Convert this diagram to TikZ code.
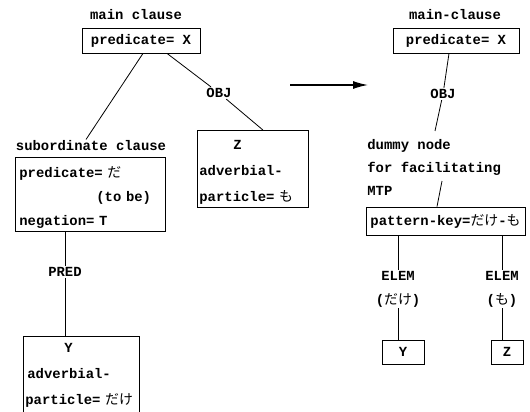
\documentclass[tikz,border=0pt]{standalone}
\usepackage{fontspec}
\setmainfont{Liberation Mono}
\newfontfamily\cjk{Noto Sans CJK JP}
\newcommand\jp[1]{{\cjk\mdseries #1}}
\usetikzlibrary{arrows.meta}

\tikzset{
  lbl/.style={inner sep=1pt, font=\fontsize{13.9}{24}\selectfont\bfseries},
  rel/.style={lbl},
  box/.style={draw, line width=.8pt, inner xsep=2pt, inner ysep=0pt, font=\fontsize{13.9}{26}\selectfont\bfseries},
}

\begin{document}
\begin{tikzpicture}[x=1pt, y=-1pt, line width=.8pt]
\useasboundingbox (0,0) rectangle (530,412);
% left tree
\node[lbl] (mainL) at (136,15) {main clause};
\node[box, minimum width=118pt, minimum height=25pt] (predL) at (141,40.5) {predicate= X};
\node[rel] (objL) at (219,93) {OBJ};
\node[lbl] (subL) at (91,146) {subordinate clause};
\node[box, anchor=north west, text width=142pt, inner xsep=4pt, minimum height=74pt, align=left,
  font=\fontsize{13.9}{24}\selectfont\bfseries] (subB) at (15,157)
  {\rule{0pt}{17pt}predicate= \jp{だ}\\\hspace*{77pt}(to be)\\negation= T};
\node[box, anchor=north west, text width=107pt, minimum height=77pt, align=left] (zB) at (197,130)
  {\rule{0pt}{17pt}\hspace*{34pt}Z\\adverbial-\\particle= \jp{も}};
\node[rel] (predLbl) at (65,272) {PRED};
\node[box, anchor=north west, text width=112pt, minimum height=78pt, align=left] (yB) at (23,336)
  {\hspace*{39pt}Y\\\hspace*{2pt}adverbial-\\particle= \jp{だけ}};

\draw ([xshift=2pt]predL.south) -- ([xshift=-5pt]subL.north);
\draw ([xshift=26pt]predL.south) -- (objL);
\draw (objL) -- ([xshift=10pt]zB.north);
\draw (predLbl) -- (predLbl |- subB.south);
\draw (predLbl) -- (predLbl |- yB.north);

% arrow
\coordinate (arrS) at (290,85);
\coordinate (arrE) at (368,85);
\draw[line width=1.3pt, -{Latex[length=15pt,width=8pt]}] (arrS) -- (arrE);

% right tree
\node[lbl] (mainR) at (455,15) {main-clause};
\node[box, minimum width=126pt, minimum height=25pt] (predR) at (456,40.5) {predicate= X};
\node[rel] (objR) at (443,94) {OBJ};
\node[lbl, anchor=north west, align=left, font=\fontsize{13.9}{23}\selectfont\bfseries] (dummy) at (366,138)
  {dummy node\\for facilitating\\MTP};
\coordinate (dTop) at (435,131);
\coordinate (dBot) at (442,181);
\node[box, minimum width=159pt, minimum height=28pt, inner xsep=1pt] (keyB) at (445.5,221)
  {pattern-key=\jp{だけ}-\jp{も}};
\node[rel, align=center] (elemY) at (398,289) {ELEM\\(\jp{だけ})};
\node[rel, align=center] (elemZ) at (502,289) {ELEM\\(\jp{も})};
\node[box, minimum width=42pt, minimum height=24pt, anchor=north] (yR) at (403,340) {Y};
\node[box, minimum width=32pt, minimum height=24pt, anchor=north] (zR) at (507,340) {Z};

\draw ([xshift=-7pt]predR.south) -- (objR);
\draw (objR) -- (dTop);
\draw (dBot) -- ([xshift=-8.5pt]keyB.north);
\draw (elemY) -- (elemY |- keyB.south);
\draw (elemY) -- (elemY |- yR.north);
\draw (elemZ) -- (elemZ |- keyB.south);
\draw (elemZ) -- (elemZ |- zR.north);
\end{tikzpicture}
\end{document}
